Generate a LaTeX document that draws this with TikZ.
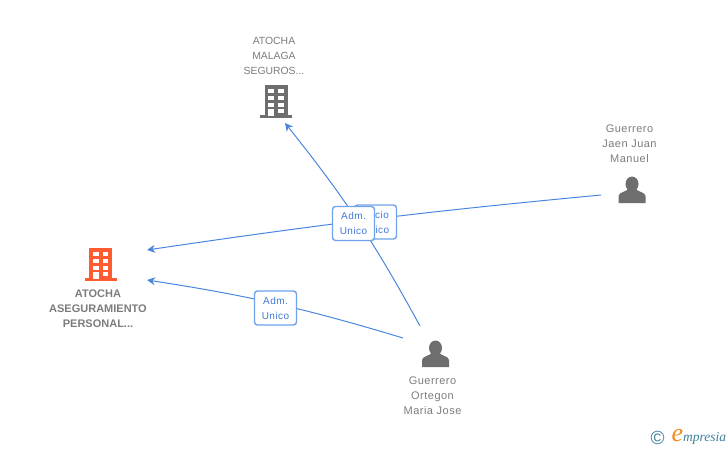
\documentclass[tikz,border=0pt]{standalone}
\usepackage{fontspec}
\setmainfont{Liberation Sans}
\newfontfamily\logofont{Liberation Serif}
\newfontfamily\spacedfont[LetterSpace=4.5]{Liberation Sans}
\usetikzlibrary{arrows.meta}
\definecolor{edgeBlue}{HTML}{4A86E0}
\definecolor{boxBlue}{HTML}{6FA3EA}
\definecolor{labelBlue}{HTML}{3F78D8}
\definecolor{iconGrey}{HTML}{6E6E6E}
\definecolor{textGrey}{HTML}{7C7C7C}
\definecolor{mainOrange}{HTML}{FF5A30}
\definecolor{logoTeal}{HTML}{3C7F99}
\definecolor{logoOrange}{HTML}{F08A1D}
% icons are drawn around the centre of their node
\newcommand{\buildingIcon}[2]{
	\fill[#2] ([xshift=-11.5pt,yshift=16pt]#1.center) rectangle ([xshift=11.5pt,yshift=-16pt]#1.center);
	\fill[#2] ([xshift=-16pt,yshift=-14pt]#1.center) rectangle ([xshift=16pt,yshift=-17pt]#1.center);
	\foreach \wy in {12,5.5,-1.5}{
		\fill[white] ([xshift=-7.7pt,yshift=\wy pt]#1.center) rectangle ([xshift=-2pt,yshift=\wy pt-4.3pt]#1.center);
		\fill[white] ([xshift=2pt,yshift=\wy pt]#1.center) rectangle ([xshift=7.5pt,yshift=\wy pt-4.3pt]#1.center);
	}
	\fill[white] ([xshift=-7.7pt,yshift=-8pt]#1.center) rectangle ([xshift=-2pt,yshift=-15pt]#1.center);
	\fill[white] ([xshift=2pt,yshift=-8pt]#1.center) rectangle ([xshift=7.5pt,yshift=-12pt]#1.center);
}
\newcommand{\personIcon}[1]{
	\fill[iconGrey] ([yshift=6pt]#1.center) ellipse (6.5pt and 7.5pt);
	\fill[iconGrey] ([xshift=-13.5pt,yshift=-13pt]#1.center) -- ([xshift=-13.5pt,yshift=-6pt]#1.center)
		.. controls ([xshift=-13pt,yshift=-2pt]#1.center) and ([xshift=-6pt,yshift=-2pt]#1.center) .. ([xshift=-4pt,yshift=1pt]#1.center)
		-- ([xshift=4pt,yshift=1pt]#1.center)
		.. controls ([xshift=6pt,yshift=-2pt]#1.center) and ([xshift=13pt,yshift=-2pt]#1.center) .. ([xshift=13.5pt,yshift=-6pt]#1.center)
		-- ([xshift=13.5pt,yshift=-13pt]#1.center) -- cycle;
}

\begin{document}
\begin{tikzpicture}[x=1pt, y=-1pt, font=\fontsize{11}{15}\selectfont]
	\tikzstyle{iconStyle} = [minimum size = 30pt, inner sep = 0pt]
	\tikzstyle{nameStyle} = [align = center, text = textGrey, inner sep = 0pt]
	\tikzstyle{companyStyle} = [nameStyle, font = \fontsize{10.4}{15}\selectfont]
	\tikzstyle{personStyle} = [nameStyle, font = \fontsize{11}{15}\spacedfont]
	\tikzstyle{mainNameStyle} = [nameStyle, font = \fontsize{11}{15}\selectfont\bfseries]
	\tikzstyle{edgeStyle} = [draw = edgeBlue, line width = 1pt, -{Stealth[length = 8pt, width = 8pt, inset = 2.5pt]}]
	\tikzstyle{roleStyle} = [shape = rectangle, rounded corners = 3pt, draw = boxBlue, line width = 1.4pt, fill = white, text = labelBlue, align = center, inner sep = 0pt, minimum width = 42pt, minimum height = 34pt, font = \fontsize{10}{15}\spacedfont]
	\useasboundingbox (0,0) rectangle (728,450);
	% icons
	\node[iconStyle] (malaga) at (276,101) {};
	\node[iconStyle] (aseguramiento) at (100.5,264) {};
	\node[iconStyle] (jaen) at (632,190) {};
	\node[iconStyle] (ortegon) at (435.5,354) {};
	\buildingIcon{malaga}{iconGrey}
	\buildingIcon{aseguramiento}{mainOrange}
	\personIcon{jaen}
	\personIcon{ortegon}
	% names
	\node[companyStyle] (malagaName) at (274,56) {ATOCHA\\MALAGA\\SEGUROS...};
	\node[mainNameStyle] (aseguramientoName) at (98,309) {ATOCHA\\ASEGURAMIENTO\\PERSONAL...};
	\node[personStyle] (jaenName) at (629.5,144) {Guerrero\\Jaen Juan\\Manuel};
	\node[personStyle] (ortegonName) at (432.5,396) {Guerrero\\Ortegon\\Maria Jose};
	% free ends of the connectors
	\coordinate (malagaIn) at (285,123);
	\coordinate (asegInA) at (147,250);
	\coordinate (asegInB) at (147,280);
	\coordinate (jaenOut) at (601,195);
	\coordinate (ortegonOutA) at (420,326);
	\coordinate (ortegonOutB) at (403,338);
	% connectors
	\draw[edgeStyle] (jaenOut) to[bend right = 1.5] (asegInA);
	\draw[edgeStyle] (ortegonOutA) to[bend right = 5] (malagaIn);
	\draw[edgeStyle] (ortegonOutB) to[bend right = 4] (asegInB);
	% roles
	\node[roleStyle] (socioRole) at (375.5,222) {Socio\\Unico};
	\node[roleStyle] (admRoleA) at (353.5,223.5) {Adm.\\Unico};
	\node[roleStyle] (admRoleB) at (275.5,308) {Adm.\\Unico};
	% logo
	\node[inner sep = 0pt, text = logoTeal, font = \fontsize{19}{19}\selectfont] (logoMark) at (657.5,438) {©};
	\node[inner sep = 0pt, text = logoOrange, font = \fontsize{26}{26}\logofont\itshape] (logoLetter) at (677.5,435) {e};
	\node[inner sep = 0pt, text = logoTeal, font = \fontsize{13.5}{13.5}\logofont\itshape, anchor = west] (logoName) at (683,438) {mpresia};
\end{tikzpicture}
\end{document}
